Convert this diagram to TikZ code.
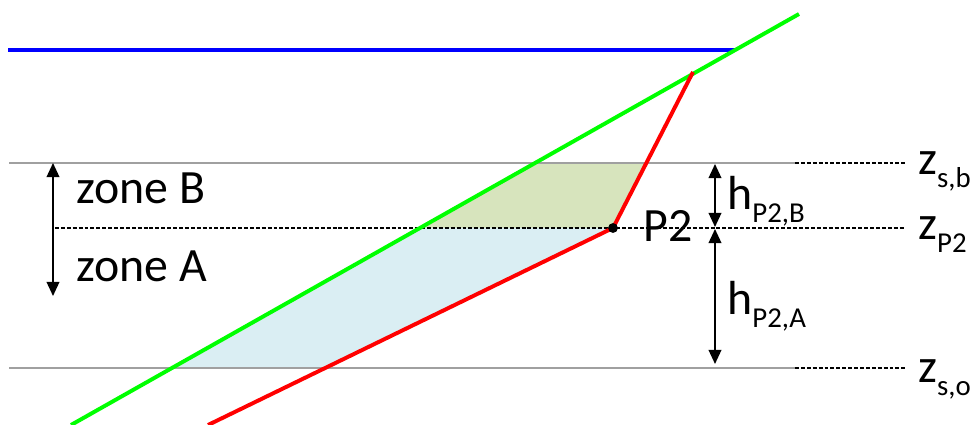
\documentclass[tikz,border=0pt]{standalone}
\usepackage{fontspec}
\setmainfont{Carlito}
\usetikzlibrary{arrows.meta}
\definecolor{zoneBfill}{HTML}{D7E4BD}
\definecolor{zoneAfill}{HTML}{DAEEF3}
\definecolor{levelgray}{HTML}{A0A0A0}
\newcommand{\lvl}[2]{#1\raisebox{-9pt}{\fontsize{20.5}{24}\selectfont #2}}

\begin{document}
\begin{tikzpicture}[x=0.025cm,y=-0.025cm]
	\tikzstyle{level line}=[draw=levelgray, line width=1.6pt]
	\tikzstyle{ext line}=[dash pattern=on 2.8pt off 1.4pt, line width=0.8pt]
	\tikzstyle{dim arrow}=[{Triangle[length=10pt,width=9pt]}-{Triangle[length=10pt,width=9pt]}, line width=1.2pt]
	\tikzstyle{big text}=[font=\fontsize{34}{40}\selectfont, inner sep=0pt, anchor=base west]
	
	\useasboundingbox (0,0) rectangle (975,425);
	
	% points of the lines
	\coordinate (gbot) at (71,425);
	\coordinate (gtop) at (799,14);
	\coordinate (rbot) at (208,425);
	\coordinate (P2) at (613,228);
	\coordinate (rtop) at (693,72);
	\coordinate (gB) at (535,163);
	\coordinate (rB) at (647,163);
	\coordinate (gP) at (420,228);
	\coordinate (gA) at (172,368);
	\coordinate (rA) at (325,368);
	
	% zones
	\fill[zoneBfill] (gB) -- (rB) -- (P2) -- (gP) -- cycle;
	\fill[zoneAfill] (gP) -- (P2) -- (rA) -- (gA) -- cycle;
	
	% levels
	\draw[level line] (9,163) coordinate (sbL) -- (795,163) coordinate (sbR);
	\draw[level line] (9,368) coordinate (soL) -- (795,368) coordinate (soR);
	\draw[ext line] (sbR) -- (905,163);
	\draw[ext line] (soR) -- (905,368);
	\draw[ext line] (55,228) coordinate (pL) -- (905,228);
	
	\draw[blue, line width=2.6pt] (8,50) -- (735,50);
	\draw[green, line width=2.8pt] (gbot) -- (gtop);
	\draw[red, line width=2.8pt] (rbot) -- (P2) -- (rtop);
	\fill (P2) circle (3.5pt);
	
	% arrows
	\draw[dim arrow] (53,163) -- (53,296);
	\draw[dim arrow] (715,164) -- (715,227);
	\draw[dim arrow] (715,229) -- (715,364);
	
	% labels
	\node[big text] (zoneB) at (76,204) {zone B};
	\node[big text] (zoneA) at (76,282) {zone A};
	\node[big text] (labP2) at (643,242) {P2};
	\node[big text] (hB) at (727,210) {\lvl{h}{P2,B}};
	\node[big text] (hA) at (727,315) {\lvl{h}{P2,A}};
	\node[big text] (zsb) at (918,175) {\lvl{z}{s,b}};
	\node[big text] (zP) at (918,240) {\lvl{z}{P2}};
	\node[big text] (zso) at (918,383) {\lvl{z}{s,o}};
\end{tikzpicture}
\end{document}
